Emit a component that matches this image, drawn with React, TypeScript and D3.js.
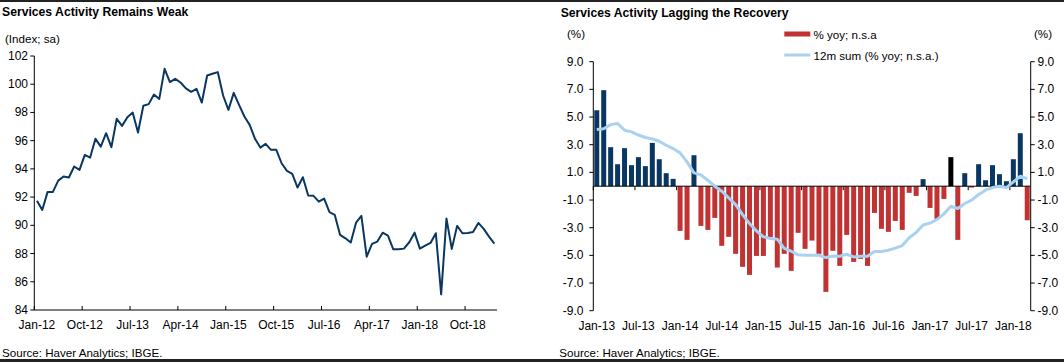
import React from 'react';
import * as d3 from 'd3';

// Services index (sa), monthly Jan-12 .. Mar-19
const indexStart = new Date(2012, 0, 1);
const indexValues = [
  91.75, 91.09, 92.37, 92.37, 93.17, 93.46, 93.39, 94.17, 93.93, 94.99, 94.8, 96.13,
  95.58, 96.53, 95.54, 97.55, 97.05, 97.66, 97.99, 96.58, 98.47, 98.59, 99.27, 98.96,
  101.09, 100.15, 100.38, 100.12, 99.7, 99.46, 99.67, 98.7, 100.62, 100.74, 100.86, 99.2,
  98.18, 99.39, 98.54, 97.71, 97.12, 96.13, 95.51, 95.77, 95.35, 95.35, 94.4, 93.86,
  93.65, 92.68, 93.41, 92.11, 92.09, 91.68, 91.9, 90.93, 90.74, 89.32, 89.08, 88.78,
  90.19, 90.67, 87.78, 88.68, 88.85, 89.48, 89.27, 88.3, 88.3, 88.35, 88.8, 89.48,
  88.35, 88.56, 88.75, 89.44, 85.11, 90.48, 88.33, 89.96, 89.44, 89.46, 89.53, 90.17,
  89.75, 89.2, 88.7,
];
const indexTicks = [84, 86, 88, 90, 92, 94, 96, 98, 100, 102];

// % yoy n.s.a. and 12m sum, monthly Jan-13 .. Mar-18
const yoyStart = new Date(2013, 0, 1);
const yoyValues = [
  5.49, 6.94, 2.82, 1.59, 2.75, 1.52, 2.1, 1.45, 3.13, 1.95, 0.94, 0.53,
  -3.23, -3.88, 2.24, -2.87, -3.16, -2.29, -4.31, -3.66, -4.89, -5.83, -6.41, -5.04,
  -5.04, -3.69, -5.88, -4.89, -6.12, -3.37, -4.53, -3.93, -4.89, -7.64, -4.67, -5.76,
  -3.52, -5.47, -5.25, -5.76, -1.93, -3.08, -3.3, -2.51, -3.16, -0.48, -0.7, 0.51,
  -1.57, -2.36, -0.92, 2.1, -3.88, 0.94, -0.1, 1.59, 0.43, 1.52, 0.87, 0.36,
  1.95, 3.83, -2.46,
];
const sum12Values = [
  4.1, 4.15, 4.45, 4.53, 4.05, 3.93, 3.7, 3.52, 3.42, 3.25, 2.96, 2.72,
  2.41, 1.76, 0.96, 0.82, 0.43, 0.0, -0.36, -0.84, -1.33, -2.05, -2.7, -3.23,
  -3.66, -3.78, -3.83, -4.5, -4.7, -4.96, -4.99, -4.99, -4.99, -5.16, -5.04, -5.06,
  -4.92, -5.11, -5.06, -5.06, -4.72, -4.72, -4.63, -4.48, -4.29, -3.73, -3.35, -2.8,
  -2.67, -2.41, -2.0, -1.45, -1.61, -1.25, -1.01, -0.6, -0.29, -0.1, 0.0, -0.1,
  0.31, 0.72, 0.55,
];
const highlightIdx = 51; // Apr-17 shown in black
const pctTicks = [-9, -7, -5, -3, -1, 1, 3, 5, 7, 9];

const NAVY = '#0a3761';
const RED = '#c13333';
const LIGHT = '#a9d1f1';
const FONT = 'Arial, "Liberation Sans", sans-serif';
const fmtMonth = d3.timeFormat('%b-%y');

export default function App() {
  const W = 1064;
  const H = 362;

  // ---- left chart ----
  const lMonths = indexValues.map((_, i) => d3.timeMonth.offset(indexStart, i));
  const lx = d3.scaleBand<number>().domain(d3.range(indexValues.length)).range([34.3, 497]);
  const ly = d3.scaleLinear().domain([84, 102]).range([310, 56]);
  const lLine = d3.line<number>()
    .x((_, i) => (lx(i) ?? 0) + lx.bandwidth() / 2)
    .y(d => ly(d));
  const lTickIdx = d3.range(0, indexValues.length, 9);

  // ---- right chart ----
  const rMonths = yoyValues.map((_, i) => d3.timeMonth.offset(yoyStart, i));
  const rx = d3.scaleBand<number>().domain(d3.range(yoyValues.length)).range([593.3, 1030.7]).paddingInner(0.28).paddingOuter(0.14);
  const rxb = d3.scaleBand<number>().domain(d3.range(yoyValues.length)).range([593.3, 1030.7]);
  const ry = d3.scaleLinear().domain([-9, 9]).range([310.7, 61.7]);
  const rLine = d3.line<number>()
    .x((_, i) => (rxb(i) ?? 0) + rxb.bandwidth() / 2)
    .y(d => ry(d));
  const rTickIdx = d3.range(0, yoyValues.length, 6);

  const tickFont = { fontFamily: FONT, fontSize: 12, fill: '#000' };
  const noteSize = 11.6;

  return (
    <div style={{ position: 'absolute', left: 0, top: 0 }}>
      <svg width={W} height={H} style={{ display: 'block', background: '#fff' }}>
        <rect x={0} y={0} width={W} height={2} fill="#222" />
        <rect x={0} y={359} width={W} height={3} fill="#222" />

        {/* left chart */}
        <text x={2} y={12} dominantBaseline="central" fontFamily={FONT} fontSize={12.2} fontWeight="bold">Services Activity Remains Weak</text>
        <text x={5} y={38} dominantBaseline="central" {...tickFont} fontSize={noteSize}>(Index; sa)</text>
        <line x1={34.3} x2={34.3} y1={56} y2={310} stroke="#000" />
        <line x1={34.3} x2={497} y1={310} y2={310} stroke="#000" />
        {indexTicks.map(t => (
          <g key={t}>
            <line x1={30.3} x2={34.3} y1={ly(t)} y2={ly(t)} stroke="#000" />
            <text x={28} y={ly(t)} textAnchor="end" dominantBaseline="central" {...tickFont}>{t}</text>
          </g>
        ))}
        {lTickIdx.map(i => (
          <g key={i}>
            <line x1={lx(i)} x2={lx(i)} y1={310} y2={306} stroke="#000" />
            <text x={(lx(i) ?? 0) + lx.bandwidth() / 2} y={325} textAnchor="middle" dominantBaseline="central" {...tickFont}>{fmtMonth(lMonths[i])}</text>
          </g>
        ))}
        <path d={lLine(indexValues) ?? ''} fill="none" stroke={NAVY} strokeWidth={2} strokeLinejoin="round" />
        <text x={2} y={352.5} dominantBaseline="central" {...tickFont} fontSize={noteSize}>Source: Haver Analytics; IBGE.</text>

        {/* right chart */}
        <text x={560.7} y={12.7} dominantBaseline="central" fontFamily={FONT} fontSize={12.2} fontWeight="bold">Services Activity Lagging the Recovery</text>
        <text x={576} y={33} textAnchor="middle" dominantBaseline="central" {...tickFont} fontSize={noteSize}>(%)</text>
        <text x={1043} y={33} textAnchor="middle" dominantBaseline="central" {...tickFont} fontSize={noteSize}>(%)</text>

        <rect x={784.3} y={31.5} width={26} height={5} fill={RED} />
        <text x={813.5} y={34} dominantBaseline="central" {...tickFont} fontSize={noteSize}>% yoy; n.s.a</text>
        <line x1={784.3} x2={810.3} y1={55} y2={55} stroke={LIGHT} strokeWidth={3} />
        <text x={813.5} y={55} dominantBaseline="central" {...tickFont} fontSize={noteSize}>12m sum (% yoy; n.s.a.)</text>

        {yoyValues.map((v, i) => (
          <rect key={i} x={rx(i)} width={rx.bandwidth()} y={ry(Math.max(0, v))} height={Math.abs(ry(v) - ry(0))}
            fill={i === highlightIdx ? '#000' : v >= 0 ? NAVY : RED} />
        ))}

        <line x1={593.3} x2={593.3} y1={61.7} y2={310.7} stroke="#000" />
        <line x1={1030.7} x2={1030.7} y1={61.7} y2={310.7} stroke="#000" />
        {pctTicks.map(t => (
          <g key={t}>
            <line x1={589.3} x2={593.3} y1={ry(t)} y2={ry(t)} stroke="#000" />
            <text x={583.5} y={ry(t)} textAnchor="end" dominantBaseline="central" {...tickFont}>{t.toFixed(1)}</text>
            <line x1={1030.7} x2={1034.7} y1={ry(t)} y2={ry(t)} stroke="#000" />
            <text x={1037.5} y={ry(t)} dominantBaseline="central" {...tickFont}>{t.toFixed(1)}</text>
          </g>
        ))}
        <line x1={593.3} x2={1030.7} y1={ry(0)} y2={ry(0)} stroke="#000" />
        {rTickIdx.map(i => (
          <g key={i}>
            <line x1={rxb(i)} x2={rxb(i)} y1={ry(0)} y2={ry(0) + 4} stroke="#000" />
            <text x={(rxb(i) ?? 0) + rxb.bandwidth() / 2} y={325.5} textAnchor="middle" dominantBaseline="central" {...tickFont}>{fmtMonth(rMonths[i])}</text>
          </g>
        ))}
        <path d={rLine(sum12Values) ?? ''} fill="none" stroke={LIGHT} strokeWidth={3} strokeLinejoin="round" />
        <text x={559.3} y={352.5} dominantBaseline="central" {...tickFont} fontSize={noteSize}>Source: Haver Analytics; IBGE.</text>
      </svg>
    </div>
  );
}
